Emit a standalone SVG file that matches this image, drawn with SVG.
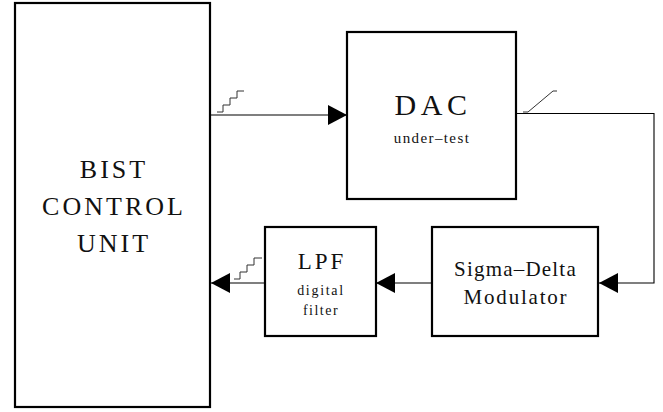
<svg xmlns="http://www.w3.org/2000/svg" width="663" height="412" viewBox="0 0 663 412">
  <style>
    .box { fill: #fff; stroke: #000; stroke-width: 2.2; }
    .wire { fill: none; stroke: #000; stroke-width: 1.1; }
    .sig { fill: none; stroke: #333; stroke-width: 1; }
    text { font-family: "Liberation Serif", "Times New Roman", serif; fill: #111; text-anchor: middle; }
  </style>
  <defs>
    <marker id="arrow" markerWidth="20" markerHeight="20" refX="19" refY="10" orient="auto" markerUnits="userSpaceOnUse">
      <path d="M0,0 L19,10 L0,20 Z" fill="#000"/>
    </marker>
  </defs>
  <rect width="663" height="412" fill="#fff"/>

  <g id="connectors">
    <!-- BIST -> DAC -->
    <line class="wire" x1="210" y1="115" x2="347" y2="115" marker-end="url(#arrow)"/>
    <!-- DAC -> Sigma-Delta -->
    <polyline class="wire" points="516,113.5 654,113.5 654,283 599,283" marker-end="url(#arrow)"/>
    <!-- Sigma-Delta -> LPF -->
    <line class="wire" x1="432" y1="283" x2="376" y2="283" marker-end="url(#arrow)"/>
    <!-- LPF -> BIST -->
    <line class="wire" x1="265" y1="283" x2="211" y2="283" marker-end="url(#arrow)"/>
    <!-- signal shape glyphs -->
    <path class="sig" d="M217,112 H223 V105 H230 V98 H237 V91 H244"/>
    <path class="sig" d="M523,112 H528 L553,91 H557"/>
    <path class="sig" d="M234,279 H240 V272 H247 V265 H254 V258 H262"/>
  </g>

  <g id="bist">
    <rect class="box" x="15" y="3" width="195" height="404"/>
    <text x="114" y="178" font-size="26" letter-spacing="3">BIST</text>
    <text x="114" y="215" font-size="26" letter-spacing="3">CONTROL</text>
    <text x="114" y="252" font-size="26" letter-spacing="3">UNIT</text>
  </g>

  <g id="dac">
    <rect class="box" x="347" y="32" width="169" height="167"/>
    <text x="433" y="115" font-size="30" letter-spacing="4.5">DAC</text>
    <text x="432" y="143" font-size="15" letter-spacing="1.4">under–test</text>
  </g>

  <g id="sigma-delta">
    <rect class="box" x="432" y="227" width="166" height="109"/>
    <text x="515.5" y="276" font-size="21" letter-spacing="1.2">Sigma–Delta</text>
    <text x="516" y="304" font-size="21" letter-spacing="1.8">Modulator</text>
  </g>

  <g id="lpf">
    <rect class="box" x="265" y="227" width="111" height="109"/>
    <text x="322" y="269" font-size="23" letter-spacing="3">LPF</text>
    <text x="321" y="295" font-size="14" letter-spacing="1.7">digital</text>
    <text x="321" y="315" font-size="14" letter-spacing="1.5">filter</text>
  </g>
</svg>
